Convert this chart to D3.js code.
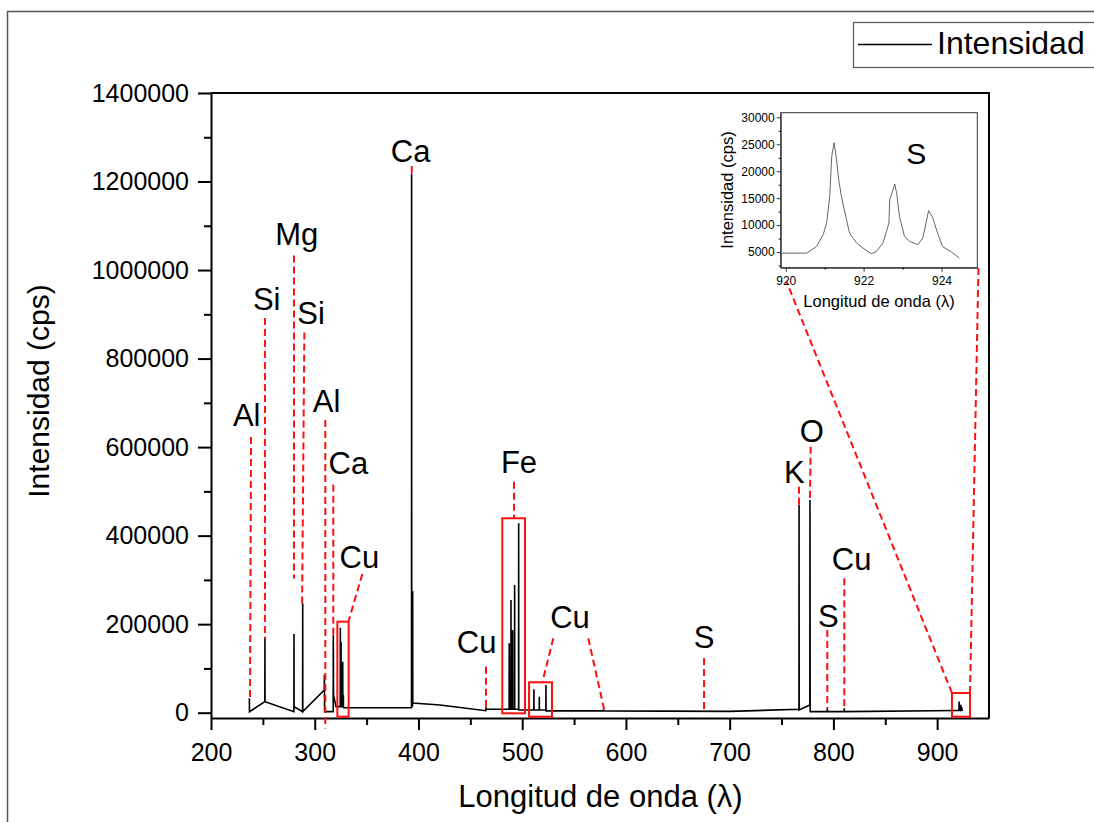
<!DOCTYPE html>
<html>
<head>
<meta charset="utf-8">
<script src="https://cdn.jsdelivr.net/npm/d3@7"></script>
<style>
  html, body { margin: 0; padding: 0; background: #fff; }
  svg { display: block; font-family: "Liberation Sans", Arial, Helvetica, sans-serif; }
</style>
</head>
<body>
<svg id="chart" width="1094" height="822"></svg>
<script>
// ---- Emission spectrum (wavelength in nm, intensity in cps) ----
const wavelength = [
  237.0, 237.1, 251.9, 252.0, 252.1, 279.9, 280.0, 280.1, 288.3, 288.4, 288.5,
  309.2, 309.3, 309.5, 317.8, 317.9, 318.1, 320.5,
  324.6, 324.7, 324.8, 325.3, 325.4, 325.5, 326.9, 327.0, 327.1, 327.5, 327.6, 327.7,
  328.0, 393.3, 393.4, 393.5, 394.3, 394.4, 394.5, 420.7,
  465.0, 465.1, 465.2, 487.4, 487.5, 487.6, 489.1, 489.2, 489.3, 490.7, 490.8, 490.9,
  492.6, 492.7, 492.8, 496.5, 496.6, 496.7,
  511.2, 511.3, 511.4, 516.4, 516.5, 516.6, 522.8, 522.9, 523.0,
  578.1, 578.2, 578.3, 700.0, 766.8, 766.9, 767.0, 777.3, 777.4, 777.6,
  794.0, 794.1, 794.2, 810.4, 810.5, 810.6
];
const intensity = [
  32500, 2300, 24900, 171700, 24900, 2300, 177800, 13600, 2300, 247000, 2300,
  51300, 85000, 2300, 2300, 175500, 40000, 13600,
  13600, 192000, 13600, 13600, 160000, 13600, 13600, 115000, 13600, 13600, 40000, 12000,
  11000, 11000, 1218000, 15000, 15000, 275000, 22000, 17400,
  4500, 13600, 7700, 7700, 157000, 7700, 7700, 254600, 7700, 7700, 186800, 7700,
  7700, 288500, 7700, 7700, 427800, 6100,
  6100, 52800, 6100, 6100, 36100, 6100, 6100, 62600, 4000,
  4000, 7700, 4000, 3000, 7700, 469200, 6100, 17400, 480500, 2300,
  2300, 9900, 2300, 2300, 9900, 2300
];

// ---- Sulfur triplet region, 920-925 nm ----
const insetWavelength = [
  919.90, 920.54, 920.79, 920.96, 921.05, 921.13, 921.18, 921.24, 921.29, 921.36,
  921.43, 921.56, 921.64, 921.82, 921.99, 922.20, 922.33, 922.50, 922.65, 922.67,
  922.71, 922.80, 922.85, 922.92, 923.05, 923.18, 923.39, 923.52, 923.67, 923.78,
  923.90, 924.03, 924.24, 924.46
];
const insetIntensity = [
  4800, 4800, 6050, 8200, 10400, 15300, 22700, 25300, 23000, 18400,
  15300, 11000, 8500, 6700, 5700, 4700, 5100, 6700, 10400, 14700,
  15600, 17600, 15900, 11600, 7900, 7000, 6400, 7600, 12700, 11300,
  8500, 6000, 5100, 3900
];

// ---- Axis ticks ----
const xTickValues = [200, 300, 400, 500, 600, 700, 800, 900];
const xMinorTicks = [250, 350, 450, 550, 650, 750, 850];
const yTickValues = [0, 200000, 400000, 600000, 800000, 1000000, 1200000, 1400000];
const yMinorTicks = [100000, 300000, 500000, 700000, 900000, 1100000, 1300000];
const insetXTicks = [920, 922, 924];
const insetXMinor = [921, 923];
const insetYTicks = [5000, 10000, 15000, 20000, 25000, 30000];
const insetYMinor = [2500, 7500, 12500, 17500, 22500, 27500];

// ---- Element identifications (label anchor and guide, in data units) ----
const annotations = [
  { text: "Al", at: [234.4, 647700], guides: [[[238.6, 622900], [237.6, 31000]]] },
  { text: "Si", at: [253.7, 910500], guides: [[[252.0, 891700], [252.0, 167000]]] },
  { text: "Mg", at: [282.6, 1056600], guides: [[[280.0, 1032900], [280.0, 303400]]] },
  { text: "Si", at: [296.4, 878100], guides: [[[290.0, 858700], [287.8, 242200]]] },
  { text: "Al", at: [311.5, 679800], guides: [[[310.2, 661300], [310.2, -35700]]] },
  { text: "Ca", at: [332.4, 539300], guides: [[[317.9, 515100], [317.9, 175500]]] },
  { text: "Cu", at: [343.0, 326900], guides: [[[345.9, 313400], [332.4, 204900]]] },
  { text: "Ca", at: [392.5, 1244800], guides: [[[393.5, 1235100], [393.5, 1219300]]] },
  { text: "Cu", at: [456.1, 134900], guides: [[[465.1, 103900], [465.1, 13600]]] },
  { text: "Fe", at: [496.9, 540900], guides: [[[492.1, 521900], [492.1, 439200]]] },
  { text: "Cu", at: [546.1, 191400], guides: [[[530.0, 168100], [519.4, 68700]],
                                            [[563.7, 168100], [579.1, 6100]]] },
  { text: "S",  at: [675.3, 146200], guides: [[[675.3, 123600], [675.3, 0]]] },
  { text: "K",  at: [762.3, 519000], guides: [[[766.8, 510600], [766.9, 465400]]] },
  { text: "O",  at: [779.1, 612300], guides: [[[778.1, 601000], [777.4, 480500]]] },
  { text: "S",  at: [795.1, 194300], guides: [[[794.1, 186800], [794.1, 9900]]] },
  { text: "Cu", at: [817.6, 322400], guides: [[[810.5, 303600], [810.5, 9900]]] }
];
// highlighted regions: [λ from, I top], [λ to, I bottom]
const regions = [
  [[321.8, 205600], [332.7, -9000]],
  [[480.8, 439200], [502.7, -1400]],
  [[506.6, 68700], [528.7, -9000]],
  [[914.3, 44500], [931.7, -9000]]
];

const RED = "#ff1010";
const FONT = "'Liberation Sans', Arial, Helvetica, sans-serif";

const svg = d3.select("#chart");

// outer figure border
svg.append("rect")
  .attr("x", 7.5).attr("y", 11.5).attr("width", 1110).attr("height", 840)
  .attr("fill", "none").attr("stroke", "#555").attr("stroke-width", 1.5);

// ---- main plot ----
const M = { left: 211, right: 989, top: 93, bottom: 718 };
const x = d3.scaleLinear().domain([200, 950]).range([M.left, M.right]);
const y = d3.scaleLinear().domain([-12000, 1400000]).range([M.bottom, M.top]);

const spectrum = wavelength.map((w, i) => [w, intensity[i]])
  .concat(insetWavelength.map((w, i) => [w, insetIntensity[i]]));

svg.append("path")
  .datum(spectrum)
  .attr("fill", "none")
  .attr("stroke", "#000")
  .attr("stroke-width", 1.6)
  .attr("stroke-linejoin", "miter")
  .attr("d", d3.line().x(d => x(d[0])).y(d => y(d[1])));

// frame top/right
svg.append("path")
  .attr("d", `M${M.left},${M.top}H${M.right}V${M.bottom}`)
  .attr("fill", "none").attr("stroke", "#000").attr("stroke-width", 2);

function styleAxis(g, size, width) {
  g.selectAll("path.domain").attr("stroke", "#000").attr("stroke-width", width);
  g.selectAll(".tick line").attr("stroke", "#000").attr("stroke-width", width);
  g.selectAll("text").attr("fill", "#000").style("font-family", FONT).style("font-size", size + "px");
}

// y axis
const gy = svg.append("g").attr("transform", `translate(${M.left},0)`)
  .call(d3.axisLeft(y).tickValues(yTickValues).tickSize(13).tickSizeOuter(0)
    .tickPadding(9).tickFormat(d3.format("d")));
styleAxis(gy, 25, 2);
const gyMinor = svg.append("g").attr("transform", `translate(${M.left},0)`)
  .call(d3.axisLeft(y).tickValues(yMinorTicks).tickSize(7).tickFormat(""));
gyMinor.select("path.domain").remove();
styleAxis(gyMinor, 25, 2);

// x axis
const gx = svg.append("g").attr("transform", `translate(0,${M.bottom})`)
  .call(d3.axisBottom(x).tickValues(xTickValues).tickSize(12).tickSizeOuter(0)
    .tickPadding(13).tickFormat(d3.format("d")));
styleAxis(gx, 25, 2);
const gxMinor = svg.append("g").attr("transform", `translate(0,${M.bottom})`)
  .call(d3.axisBottom(x).tickValues(xMinorTicks).tickSize(7).tickFormat(""));
gxMinor.select("path.domain").remove();
styleAxis(gxMinor, 25, 2);

// axis titles
svg.append("text")
  .attr("transform", "translate(49,391) rotate(-90)")
  .attr("text-anchor", "middle")
  .style("font-family", FONT).style("font-size", "30px")
  .text("Intensidad (cps)");
svg.append("text")
  .attr("x", 600.5).attr("y", 807)
  .attr("text-anchor", "middle")
  .style("font-family", FONT).style("font-size", "31px")
  .text("Longitud de onda (λ)");

// ---- annotations ----
const ann = svg.append("g");
annotations.forEach(a => {
  a.guides.forEach(g => {
    ann.append("line")
      .attr("x1", x(g[0][0])).attr("y1", y(g[0][1]))
      .attr("x2", x(g[1][0])).attr("y2", y(g[1][1]))
      .attr("stroke", RED).attr("stroke-width", 2)
      .attr("stroke-dasharray", "7,4");
  });
  ann.append("text")
    .attr("x", x(a.at[0])).attr("y", y(a.at[1]))
    .attr("text-anchor", "middle")
    .style("font-family", FONT).style("font-size", "31px")
    .text(a.text);
});
regions.forEach(r => {
  ann.append("rect")
    .attr("x", x(r[0][0])).attr("y", y(r[0][1]))
    .attr("width", x(r[1][0]) - x(r[0][0]))
    .attr("height", y(r[1][1]) - y(r[0][1]))
    .attr("fill", "none").attr("stroke", RED).attr("stroke-width", 2);
});

// ---- inset: sulfur lines ----
const I = { left: 780.7, right: 977.3, top: 112.7, bottom: 267.7 };
const ix = d3.scaleLinear().domain([919.87, 924.92]).range([I.left, I.right]);
const iy = d3.scaleLinear().domain([2100, 30860]).range([I.bottom, I.top]);

// connectors from the highlighted S region to the inset
const sReg = regions[3];
[[[sReg[0][0], sReg[0][1]], [920.02, -500]],
 [[sReg[1][0], sReg[0][1]], [924.95, 2050]]].forEach(c => {
  ann.append("line")
    .attr("x1", x(c[0][0])).attr("y1", y(c[0][1]))
    .attr("x2", ix(c[1][0])).attr("y2", iy(c[1][1]))
    .attr("stroke", RED).attr("stroke-width", 2)
    .attr("stroke-dasharray", "7,4");
});

const inset = svg.append("g");
inset.append("rect")
  .attr("x", I.left).attr("y", I.top)
  .attr("width", I.right - I.left).attr("height", I.bottom - I.top)
  .attr("fill", "#fff").attr("stroke", "#333").attr("stroke-width", 1);

inset.append("path")
  .datum(insetWavelength.map((w, i) => [w, insetIntensity[i]]))
  .attr("fill", "none").attr("stroke", "#555").attr("stroke-width", 0.9)
  .attr("d", d3.line().x(d => ix(d[0])).y(d => iy(d[1])));

const igy = inset.append("g").attr("transform", `translate(${I.left},0)`)
  .call(d3.axisLeft(iy).tickValues(insetYTicks).tickSize(4).tickSizeOuter(0)
    .tickPadding(2).tickFormat(d3.format("d")));
styleAxis(igy, 12, 1);
igy.selectAll("path.domain, .tick line").attr("stroke", "#333");
const igyMinor = inset.append("g").attr("transform", `translate(${I.left},0)`)
  .call(d3.axisLeft(iy).tickValues(insetYMinor).tickSize(2).tickFormat(""));
igyMinor.select("path.domain").remove();
styleAxis(igyMinor, 12, 1);

const igx = inset.append("g").attr("transform", `translate(0,${I.bottom})`)
  .call(d3.axisBottom(ix).tickValues(insetXTicks).tickSize(4).tickSizeOuter(0)
    .tickPadding(5).tickFormat(d3.format("d")));
styleAxis(igx, 12, 1);
igx.selectAll("path.domain, .tick line").attr("stroke", "#333");
const igxMinor = inset.append("g").attr("transform", `translate(0,${I.bottom})`)
  .call(d3.axisBottom(ix).tickValues(insetXMinor).tickSize(2).tickFormat(""));
igxMinor.select("path.domain").remove();
styleAxis(igxMinor, 12, 1);

inset.append("text")
  .attr("transform", "translate(733,190) rotate(-90)")
  .attr("text-anchor", "middle")
  .style("font-family", FONT).style("font-size", "16.5px")
  .text("Intensidad (cps)");
inset.append("text")
  .attr("x", 879).attr("y", 307)
  .attr("text-anchor", "middle")
  .style("font-family", FONT).style("font-size", "16.5px")
  .text("Longitud de onda (λ)");
inset.append("text")
  .attr("x", ix(923.35)).attr("y", iy(25000) + 20)
  .attr("text-anchor", "middle")
  .style("font-family", FONT).style("font-size", "30px")
  .text("S");

// ---- legend ----
const legend = svg.append("g");
legend.append("rect")
  .attr("x", 853.5).attr("y", 22.5).attr("width", 260).attr("height", 45)
  .attr("fill", "#fff").attr("stroke", "#555").attr("stroke-width", 1.2);
legend.append("line")
  .attr("x1", 858).attr("x2", 932).attr("y1", 44.5).attr("y2", 44.5)
  .attr("stroke", "#000").attr("stroke-width", 1.6);
legend.append("text")
  .attr("x", 937).attr("y", 53.5)
  .style("font-family", FONT).style("font-size", "32px")
  .text("Intensidad");
</script>
</body>
</html>
